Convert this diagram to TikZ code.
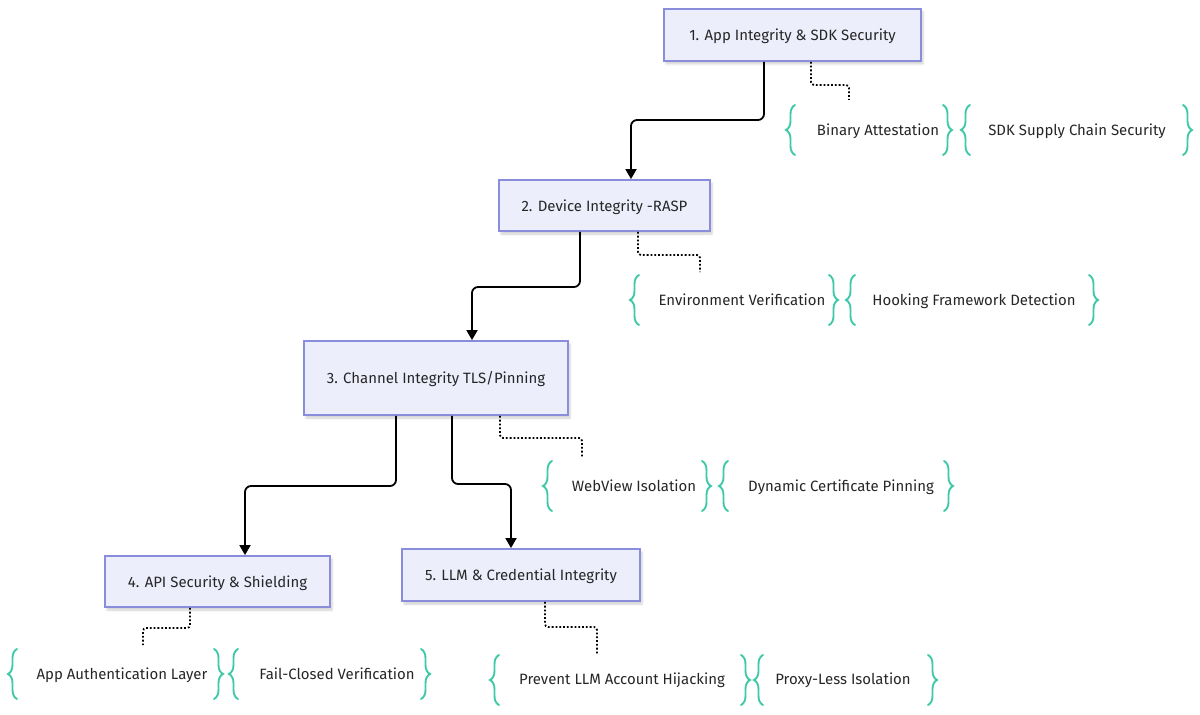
\documentclass[tikz,border=0pt]{standalone}
\usepackage{fontspec}
\setmainfont{Fira Sans}
\usetikzlibrary{arrows.meta,decorations.pathreplacing,shadows.blur}
\definecolor{boxfill}{HTML}{ECEEFC}
\definecolor{boxline}{HTML}{8A8DDB}
\definecolor{inkgrey}{HTML}{262626}
\definecolor{bracegreen}{HTML}{3FC9A8}
\begin{document}
\begin{tikzpicture}[x=1bp,y=-1bp,
  font=\fontsize{15}{18}\selectfont,
  stage/.style={draw=boxline,line width=1.8bp,fill=boxfill,text=inkgrey,
    inner sep=0pt,text height=12.5bp,text depth=1bp,
    blur shadow={shadow xshift=2bp,shadow yshift=-3bp,shadow blur steps=6,shadow opacity=18}},
  flow/.style={draw=black,line width=1.8bp,rounded corners=6bp,-{Triangle[length=10bp,width=11bp]}},
  detail/.style={draw=black,line width=1.8bp,dash pattern=on 1.8bp off 2bp},
  note/.style={text=inkgrey,inner sep=0pt,text height=12.5bp,text depth=1bp},
  curly/.style={draw=bracegreen,line width=1.9bp,line cap=round,
    decorate,decoration={brace,amplitude=9bp,aspect=0.5}}]
\useasboundingbox (0,0) rectangle (1200,715);

% stage boxes
\node[stage,minimum width=257bp,minimum height=52bp] (s1) at (792.5,35) {1. App Integrity \& SDK Security};
\node[stage,minimum width=211bp,minimum height=51bp] (s2) at (604.5,205.5) {2. Device Integrity -RASP};
\node[stage,minimum width=264bp,minimum height=74bp] (s3) at (436,378) {3. Channel Integrity TLS/Pinning};
\node[stage,minimum width=225bp,minimum height=51bp] (s4) at (217.5,581.5) {4. API Security \& Shielding};
\node[stage,minimum width=238bp,minimum height=52bp] (s5) at (521,575) {5. LLM \& Credential Integrity};

% main flow
\draw[flow] (s1.south -| 764,0) |- (700,120) -| (s2.north -| 631,0);
\draw[flow] (s2.south -| 580,0) |- (530,287) -| (s3.north -| 472,0);
\draw[flow] (s3.south -| 396,0) |- (300,486) -| (s4.north -| 245,0);
\draw[flow] (s3.south -| 452,0) |- (480,484) -| (s5.north -| 511,0);

% dotted links to detail groups
\coordinate (d1) at (849,100);
\coordinate (d2) at (700,272);
\coordinate (d3) at (582,458);
\coordinate (d4) at (143,645);
\coordinate (d5) at (597,655);
\draw[detail,rounded corners=3bp] (s1.south -| 811,0) -- (811,85) -- (849,85) -- (d1);
\draw[detail,rounded corners=3bp] (s2.south -| 638,0) -- (638,255) -- (700,255) -- (d2);
\draw[detail,rounded corners=3bp] (s3.south -| 500,0) -- (500,438) -- (582,438) -- (d3);
\draw[detail,rounded corners=3bp] (s4.south -| 190,0) -- (190,628) -- (143,628) -- (d4);
\draw[detail,rounded corners=3bp] (s5.south -| 545,0) -- (545,627) -- (597,627) -- (d5);

% detail items
\node[note] (n1a) at (878,130) {Binary Attestation};
\node[note] (n1b) at (1077,130) {SDK Supply Chain Security};
\node[note] (n2a) at (742,300) {Environment Verification};
\node[note] (n2b) at (974,300) {Hooking Framework Detection};
\node[note] (n3a) at (634,486) {WebView Isolation};
\node[note] (n3b) at (841,486) {Dynamic Certificate Pinning};
\node[note] (n4a) at (122,674) {App Authentication Layer};
\node[note] (n4b) at (337,674) {Fail-Closed Verification};
\node[note] (n5a) at (622,679) {Prevent LLM Account Hijacking};
\node[note] (n5b) at (843,679) {Proxy-Less Isolation};

% braces around the detail items
\foreach \xl/\xr/\yc in {795/943/130, 970/1183/130,
                         639/829/300, 855/1089/300,
                         552/702/486, 728/944/486,
                         17/214/674, 238/421/674,
                         499/741/680, 763/928/680}{
  \draw[curly] (\xl,\yc+25) -- (\xl,\yc-25);
  \draw[curly] (\xr,\yc-25) -- (\xr,\yc+25);
}
\end{tikzpicture}
\end{document}
